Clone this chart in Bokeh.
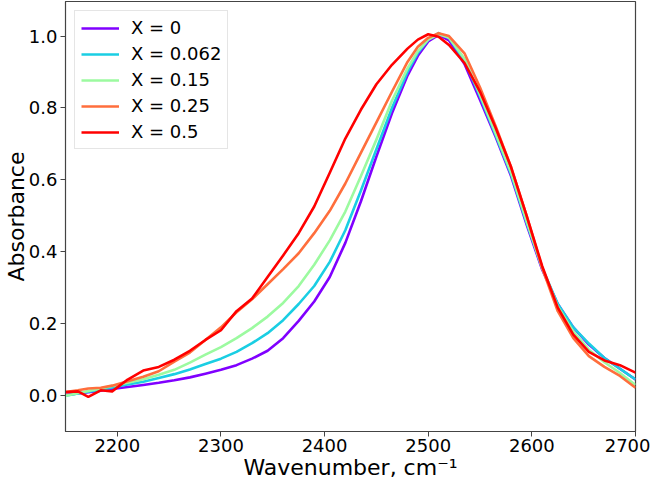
from bokeh.plotting import figure
from bokeh.models import FixedTicker, PrintfTickFormatter, Range1d
from bokeh.embed import file_html
from bokeh.resources import INLINE

wavenumber = [2150, 2162, 2172, 2184, 2195, 2210, 2225, 2240, 2255, 2270,
              2285, 2300, 2315, 2330, 2345, 2360, 2375, 2390, 2405, 2420,
              2435, 2450, 2465, 2480, 2490, 2500, 2510, 2520, 2535, 2550,
              2565, 2580, 2595, 2610, 2625, 2640, 2655, 2670, 2685, 2700]

abs_x0 = [0.002, 0.006, 0.010, 0.014, 0.019, 0.024, 0.030, 0.036, 0.043, 0.051,
          0.061, 0.072, 0.085, 0.103, 0.125, 0.160, 0.208, 0.262, 0.330, 0.425,
          0.540, 0.665, 0.785, 0.890, 0.945, 0.985, 1.003, 0.988, 0.922, 0.822,
          0.720, 0.610, 0.475, 0.350, 0.255, 0.190, 0.142, 0.105, 0.075, 0.045]

abs_x0062 = [0.000, 0.006, 0.011, 0.017, 0.023, 0.031, 0.039, 0.049, 0.060, 0.073,
             0.088, 0.103, 0.122, 0.146, 0.174, 0.210, 0.255, 0.305, 0.372, 0.460,
             0.570, 0.685, 0.800, 0.900, 0.953, 0.990, 1.008, 0.995, 0.932, 0.832,
             0.725, 0.615, 0.480, 0.355, 0.255, 0.190, 0.145, 0.105, 0.075, 0.045]

abs_x015 = [0.000, 0.007, 0.013, 0.020, 0.027, 0.036, 0.046, 0.058, 0.072, 0.092,
            0.114, 0.135, 0.160, 0.188, 0.220, 0.258, 0.305, 0.364, 0.432, 0.512,
            0.610, 0.712, 0.820, 0.910, 0.958, 0.990, 1.005, 0.995, 0.937, 0.837,
            0.730, 0.620, 0.485, 0.355, 0.248, 0.178, 0.128, 0.093, 0.063, 0.030]

abs_x025 = [0.010, 0.015, 0.020, 0.022, 0.028, 0.040, 0.053, 0.068, 0.095, 0.120,
            0.155, 0.190, 0.232, 0.268, 0.310, 0.352, 0.396, 0.452, 0.514, 0.590,
            0.675, 0.760, 0.845, 0.928, 0.970, 0.995, 1.008, 1.000, 0.952, 0.857,
            0.750, 0.635, 0.500, 0.355, 0.235, 0.160, 0.110, 0.080, 0.055, 0.022]

abs_x05 = [0.010, 0.012, -0.003, 0.015, 0.012, 0.045, 0.070, 0.080, 0.100, 0.125,
           0.155, 0.182, 0.235, 0.270, 0.330, 0.390, 0.452, 0.526, 0.620, 0.715,
           0.795, 0.866, 0.920, 0.965, 0.990, 1.005, 0.998, 0.975, 0.925, 0.845,
           0.745, 0.635, 0.500, 0.360, 0.245, 0.170, 0.122, 0.098, 0.085, 0.064]

series = [
    ("X = 0", abs_x0, "#8000ff"),
    ("X = 0.062", abs_x0062, "#1acee3"),
    ("X = 0.15", abs_x015, "#9cfaa0"),
    ("X = 0.25", abs_x025, "#ff6e3c"),
    ("X = 0.5", abs_x05, "#ff0000"),
]

x_ticks = [2200, 2300, 2400, 2500, 2600, 2700]
y_ticks = [0.0, 0.2, 0.4, 0.6, 0.8, 1.0]

p = figure(width=650, height=482, output_backend="svg", toolbar_location=None,
           x_range=Range1d(2150, 2700), y_range=Range1d(-0.0995, 1.096),
           min_border_top=1, min_border_right=15, min_border_left=0,
           min_border_bottom=0)

for label, vals, color in series:
    p.line(wavenumber, vals, line_color=color, line_width=2.6,
           line_join="round", legend_label=label)

p.xgrid.visible = False
p.ygrid.visible = False
p.outline_line_color = "#444444"
p.outline_line_width = 1.2

p.xaxis.ticker = FixedTicker(ticks=x_ticks)
p.yaxis.ticker = FixedTicker(ticks=y_ticks)
p.yaxis.formatter = PrintfTickFormatter(format="%.1f")

for ax in (p.xaxis, p.yaxis):
    ax.axis_line_color = "#444444"
    ax.major_tick_line_color = "#444444"
    ax.minor_tick_line_color = None
    ax.major_tick_out = 5
    ax.major_tick_in = 0
    ax.major_label_text_font = "DejaVu Sans"
    ax.major_label_text_font_size = "18px"
    ax.major_label_text_color = "black"
    ax.axis_label_text_font = "DejaVu Sans"
    ax.axis_label_text_font_size = "22px"
    ax.axis_label_text_font_style = "normal"
    ax.axis_label_text_color = "black"

p.xaxis.major_label_standoff = 2
p.yaxis.major_label_standoff = 3
p.xaxis.axis_label = "Wavenumber, cm\u207b\u00b9"
p.yaxis.axis_label = "Absorbance"
p.xaxis.axis_label_standoff = 0
p.yaxis.axis_label_standoff = -3

lg = p.legend[0]
lg.location = "top_left"
lg.margin = 9
lg.padding = 6
lg.spacing = 5
lg.glyph_width = 38
lg.glyph_height = 20
lg.label_height = 20
lg.label_standoff = 12
lg.label_text_font = "DejaVu Sans"
lg.label_text_font_size = "18px"
lg.label_text_color = "black"
lg.border_line_color = "#cccccc"
lg.border_line_width = 1
lg.background_fill_alpha = 0.8

open("out.html", "w").write(file_html(p, INLINE))
